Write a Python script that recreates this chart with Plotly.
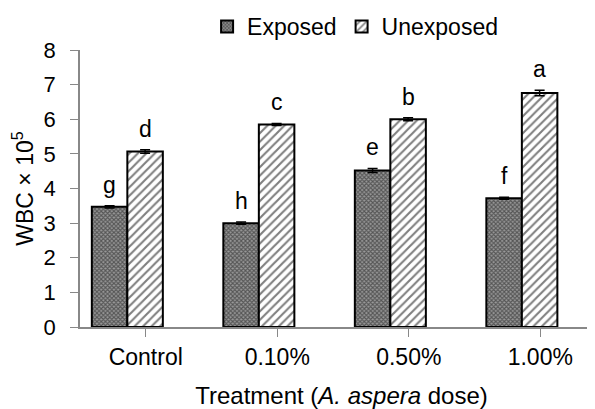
import plotly.graph_objects as go

categories = ["Control", "0.10%", "0.50%", "1.00%"]
exposed = [3.47, 3.0, 4.52, 3.72]
exposed_err = [0.03, 0.03, 0.06, 0.03]
unexposed = [5.07, 5.85, 6.0, 6.76]
unexposed_err = [0.05, 0.03, 0.04, 0.08]
exposed_letters = ["g", "h", "e", "f"]
unexposed_letters = ["d", "c", "b", "a"]

W = 0.27
OFF_E = -0.41
OFF_U = OFF_E + W
idx = list(range(len(categories)))

fig = go.Figure()
fig.add_trace(go.Bar(
    name="Exposed", x=idx, y=exposed, width=W, offset=OFF_E,
    error_y=dict(type="data", array=exposed_err, color="black", thickness=1.5, width=5),
    marker=dict(color="#8a8a8a", line=dict(color="black", width=2),
                pattern=dict(shape="x", size=3, solidity=0.6, fgcolor="#111111", bgcolor="#9a9a9a")),
))
fig.add_trace(go.Bar(
    name="Unexposed", x=idx, y=unexposed, width=W, offset=OFF_U,
    error_y=dict(type="data", array=unexposed_err, color="black", thickness=1.5, width=5),
    marker=dict(color="white", line=dict(color="black", width=2),
                pattern=dict(shape="/", size=6, solidity=0.35, fgcolor="black", bgcolor="white")),
))

annotations = []
for i in idx:
    annotations.append(dict(x=i + OFF_E + W / 2, y=exposed[i] + exposed_err[i], text=exposed_letters[i],
                            xref="x", yref="y", showarrow=False, yanchor="bottom", yshift=6,
                            font=dict(size=23, color="black")))
    annotations.append(dict(x=i + OFF_U + W / 2, y=unexposed[i] + unexposed_err[i], text=unexposed_letters[i],
                            xref="x", yref="y", showarrow=False, yanchor="bottom", yshift=6,
                            font=dict(size=23, color="black")))

fig.update_layout(
    width=595, height=409,
    margin=dict(l=72, r=0, t=42, b=90, autoexpand=False),
    paper_bgcolor="white", plot_bgcolor="white",
    font=dict(family="Liberation Sans, Arial, sans-serif", size=22, color="black"),
    showlegend=True,
    legend=dict(orientation="h", x=0.243, xanchor="left", y=1.085, yanchor="middle",
                font=dict(size=23), itemwidth=30, tracegroupgap=0, bgcolor="rgba(0,0,0,0)"),
    annotations=annotations,
)
fig.update_xaxes(
    tickmode="array", tickvals=idx, ticktext=categories,
    range=[-0.5, 3.477], showline=True, linecolor="#888888", linewidth=1.5,
    ticks="outside", tickson="boundaries", ticklen=8, tickcolor="#888888",
    showgrid=False, zeroline=False, ticklabelstandoff=1, automargin=False,
    title=dict(text="Treatment (<i>A. aspera</i> dose)", font=dict(size=24), standoff=18),
    tickfont=dict(size=23),
)
fig.update_yaxes(
    range=[0, 8], dtick=1, showline=True, linecolor="#888888", linewidth=1.5,
    ticks="outside", ticklen=8, tickcolor="#888888", showgrid=False, zeroline=False,
    ticklabelstandoff=10, automargin=False,
    title=dict(text="WBC × 10<sup>5</sup>", font=dict(size=23), standoff=6),
    tickfont=dict(size=22),
)

fig.write_html("out.html")
